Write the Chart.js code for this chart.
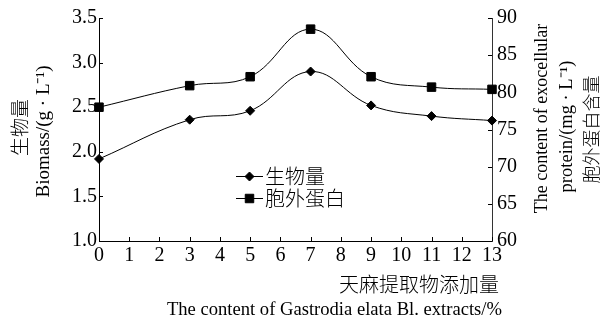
<!DOCTYPE html>
<html><head><meta charset="utf-8">
<script src="https://cdn.jsdelivr.net/npm/chart.js@4/dist/chart.umd.min.js"></script>
<style>html,body{margin:0;padding:0;background:#fff}#wrap{width:602px;height:321px;position:relative}</style>
</head><body><div id="wrap"><canvas id="c"></canvas></div>
<script>
// ---- data ----
const xValues = [0, 3, 5, 7, 9, 11, 13];
const biomass = [1.92, 2.36, 2.46, 2.90, 2.52, 2.40, 2.35];
const protein = [78.0, 80.9, 82.1, 88.5, 82.1, 80.7, 80.4];
const xTicks = [0,1,2,3,4,5,6,7,8,9,10,11,12,13];
const leftTicks = [1.0, 1.5, 2.0, 2.5, 3.0, 3.5];
const rightTicks = [60, 65, 70, 75, 80, 85, 90];
const seriesNames = ['生物量', '胞外蛋白'];
const leftTitle = ['生物量', 'Biomass/(g · L⁻¹)'];
const rightTitle = ['The content of exocellular', 'protein/(mg · L⁻¹)', '胞外蛋白含量'];
const bottomTitle = ['天麻提取物添加量', 'The content of Gastrodia elata Bl. extracts/%'];

const SERIF = "'Liberation Serif','Noto Sans CJK SC',serif";
const CJK = "'Noto Sans CJK SC','Liberation Serif',sans-serif";

const pts = (arr) => xValues.map((x, i) => ({x: x, y: arr[i]}));

const decor = {
  id: 'decor',
  afterDraw(chart) {
    const ctx = chart.ctx;
    const xs = chart.scales.x, yl = chart.scales.y, yr = chart.scales.y1;
    const ca = chart.chartArea;
    ctx.save();
    ctx.strokeStyle = '#000';
    ctx.lineWidth = 1;
    // inward ticks
    ctx.beginPath();
    xTicks.forEach(v => { const p = Math.round(xs.getPixelForValue(v)) + 0.5; ctx.moveTo(p, ca.bottom); ctx.lineTo(p, ca.bottom - 4); });
    leftTicks.forEach(v => { const p = Math.round(yl.getPixelForValue(v)) + 0.5; ctx.moveTo(ca.left, p); ctx.lineTo(ca.left + 4, p); });
    rightTicks.forEach(v => { const p = Math.round(yr.getPixelForValue(v)) + 0.5; ctx.moveTo(ca.right, p); ctx.lineTo(ca.right - 4, p); });
    ctx.stroke();

    ctx.fillStyle = '#000';
    ctx.textAlign = 'center';
    ctx.textBaseline = 'middle';
    const midY = (ca.top + ca.bottom) / 2;
    const rot = (text, x, y, font) => {
      ctx.save(); ctx.translate(x, y); ctx.rotate(-Math.PI / 2);
      ctx.font = font; ctx.fillText(text, 0, 0); ctx.restore();
    };
    rot(leftTitle[0], 20, midY - 2, "300 19px " + CJK);
    rot(leftTitle[1], 44, midY + 2, "19px " + SERIF);
    rot(rightTitle[0], 542, midY - 11, "18px " + SERIF);
    rot(rightTitle[1], 567, midY - 3, "18.5px " + SERIF);
    rot(rightTitle[2], 591, midY, "300 18px " + CJK);
    // bottom titles
    ctx.textAlign = 'right';
    ctx.font = "300 20px " + CJK;
    ctx.fillText(bottomTitle[0], 499, 284);
    ctx.font = "18.6px " + SERIF;
    ctx.fillText(bottomTitle[1], 502, 310);

    // legend
    const items = [
      {name: seriesNames[0], style: 'rectRot', r: 4.5, y: 176},
      {name: seriesNames[1], style: 'rect', r: 6, y: 198}
    ];
    ctx.textAlign = 'left';
    ctx.font = "300 20px " + CJK;
    items.forEach(it => {
      ctx.beginPath(); ctx.moveTo(236, it.y + 0.5); ctx.lineTo(263, it.y + 0.5); ctx.stroke();
      Chart.helpers.drawPoint(ctx, {pointStyle: it.style, radius: it.r, borderWidth: 1, rotation: 0}, 249.5, it.y + 0.5);
      ctx.fillText(it.name, 265, it.y);
    });
    ctx.restore();
  }
};

new Chart(document.getElementById('c'), {
  type: 'line',
  data: {
    datasets: [
      {label: seriesNames[0], data: pts(biomass), yAxisID: 'y', borderColor: '#000', backgroundColor: '#000',
       borderWidth: 1, pointStyle: 'rectRot', pointRadius: 4.5, tension: 0.4, clip: false},
      {label: seriesNames[1], data: pts(protein), yAxisID: 'y1', borderColor: '#000', backgroundColor: '#000',
       borderWidth: 1, pointStyle: 'rect', pointRadius: 6, tension: 0.4, clip: false}
    ]
  },
  options: {
    responsive: true, maintainAspectRatio: false, animation: false,
    layout: {padding: {top: 18, left: 0, right: 0, bottom: 0}},
    plugins: {legend: {display: false}, tooltip: {enabled: false}},
    scales: {
      x: {type: 'linear', min: 0, max: 13,
          afterBuildTicks: s => { s.ticks = xTicks.map(v => ({value: v})); },
          ticks: {color: '#000', font: {family: SERIF, size: 20}, padding: 3, maxRotation: 0, autoSkip: false},
          grid: {display: false, drawTicks: false}, border: {display: true, color: '#000', width: 1},
          afterFit: s => { s.height = 80; }},
      y: {position: 'left', min: 1, max: 3.5,
          afterBuildTicks: s => { s.ticks = leftTicks.map(v => ({value: v})); },
          ticks: {color: '#000', font: {family: SERIF, size: 20}, padding: 2, callback: v => Number(v).toFixed(1)},
          grid: {display: false, drawTicks: false}, border: {display: true, color: '#000', width: 1},
          afterFit: s => { s.width = 99; }},
      y1: {position: 'right', min: 60, max: 90,
          afterBuildTicks: s => { s.ticks = rightTicks.map(v => ({value: v})); },
          ticks: {color: '#000', font: {family: SERIF, size: 20}, padding: 5},
          grid: {display: false, drawTicks: false}, border: {display: true, color: '#333', width: 1},
          afterFit: s => { s.width = 110; }}
    }
  },
  plugins: [decor]
});
</script>
</body></html>
